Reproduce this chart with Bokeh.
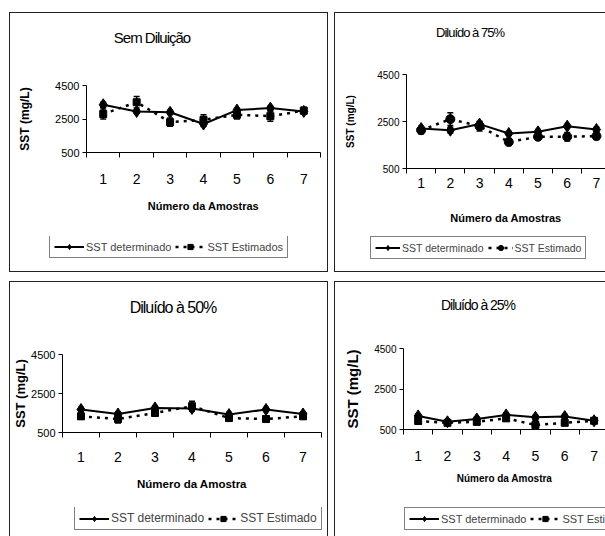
from bokeh.plotting import figure
from bokeh.models import (Range1d, FixedTicker, Legend, LegendItem, Div,
                          Whisker, ColumnDataSource, TeeHead, Spacer)
from bokeh.layouts import row, column
from bokeh.embed import file_html
from bokeh.resources import INLINE

# ---------------- data ----------------
amostras = [1, 2, 3, 4, 5, 6, 7]
y_ticks = [500, 2500, 4500]

det_sem = [3350, 2950, 2900, 2200, 3030, 3150, 2950]
est_sem = [2800, 3500, 2310, 2450, 2750, 2670, 3000]
err_det_sem = [150, 100, 120, 150, 100, 120, 100]
err_est_sem = [300, 350, 250, 300, 250, 300, 200]

det_75 = [2200, 2130, 2390, 1990, 2060, 2300, 2160]
est_75 = [2130, 2600, 2300, 1630, 1850, 1850, 1880]
err_det_75 = [100, 120, 100, 80, 100, 80, 100]
err_est_75 = [150, 270, 200, 150, 150, 180, 150]

det_50 = [1680, 1450, 1760, 1730, 1420, 1680, 1450]
est_50 = [1330, 1190, 1500, 1850, 1240, 1190, 1330]
err_det_50 = [100, 100, 100, 120, 100, 100, 100]
err_est_50 = [150, 200, 150, 250, 150, 150, 120]

det_25 = [1170, 880, 1020, 1220, 1100, 1140, 930]
est_25 = [920, 830, 880, 1050, 720, 830, 930]
err_det_25 = [100, 80, 100, 100, 100, 100, 80]
err_est_25 = [150, 120, 150, 120, 220, 120, 120]

titulos = ["Sem Diluição", "Diluído à 75%", "Diluído à 50%", "Diluído à 25%"]
eixo_x = ["Número da Amostras", "Número da Amostras", "Número da Amostra", "Número da Amostra"]
eixo_y = "SST (mg/L)"
leg_det = "SST determinado"
leg_est = ["SST Estimados", "SST Estimado", "SST Estimado", "SST Estimado"]

SANS = "Liberation Sans"


def painel(det, est, edet, eest, titulo, xtitle, lest, marker_est, lay):
    W = lay["w"]
    src = ColumnDataSource(dict(
        x=amostras, det=det, est=est,
        det_lo=[v - e for v, e in zip(det, edet)], det_hi=[v + e for v, e in zip(det, edet)],
        est_lo=[v - e for v, e in zip(est, eest)], est_hi=[v + e for v, e in zip(est, eest)],
    ))

    # ---- title (HTML text) ----
    html = ('<div style="display:block;width:%dpx;font-family:\'Liberation Sans\';'
            'font-size:%s;letter-spacing:%s;line-height:%dpx;margin:%dpx 0 0 0;'
            'text-align:center;white-space:nowrap;color:black">%s</div>'
            % (2 * lay["tcx"], lay["tfs"], lay["tls"], lay["tlh"], lay["tmt"], titulo))
    tdiv = Div(text=html, width=W, height=lay["th"], margin=0)

    # ---- main plot ----
    p = figure(width=W, height=lay["ph"], output_backend="svg",
               toolbar_location=None, title=None,
               x_range=Range1d(0.5, lay["xmax"]),
               y_range=Range1d(y_ticks[0], y_ticks[-1]),
               min_border_left=lay["ml"], min_border_right=lay["mr"],
               min_border_top=lay["mt"], min_border_bottom=lay["mb"])
    p.background_fill_color = "white"
    p.border_fill_color = "white"
    p.outline_line_color = None
    p.xgrid.visible = False
    p.ygrid.visible = False

    xa = p.xaxis[0]
    xa.ticker = FixedTicker(ticks=amostras,
                            minor_ticks=[a - 0.5 for a in amostras] + [amostras[-1] + 0.5])
    xa.major_tick_out = 0
    xa.major_tick_in = 0
    xa.minor_tick_out = 5
    xa.minor_tick_in = 0
    xa.minor_tick_line_color = "black"
    xa.axis_line_color = "black"
    xa.major_label_standoff = lay["xstand"]
    xa.major_label_text_font = SANS
    xa.major_label_text_font_size = "14px"
    xa.major_label_text_color = "black"
    xa.axis_label = xtitle
    xa.axis_label_standoff = lay["xlstand"]
    xa.axis_label_text_font = SANS
    xa.axis_label_text_font_style = "bold"
    xa.axis_label_text_font_size = lay["xlfs"]
    xa.axis_label_text_color = "black"

    ya = p.yaxis[0]
    ya.ticker = FixedTicker(ticks=y_ticks)
    ya.minor_tick_out = 0
    ya.minor_tick_in = 0
    ya.major_tick_out = 4
    ya.major_tick_in = 0
    ya.major_tick_line_color = "black"
    ya.axis_line_color = "black"
    ya.major_label_standoff = 3
    ya.major_label_text_font = SANS
    ya.major_label_text_font_size = lay["yfs"]
    ya.major_label_text_color = "black"
    ya.axis_label = eixo_y
    ya.axis_label_standoff = lay["ylstand"]
    ya.axis_label_text_font = SANS
    ya.axis_label_text_font_style = "bold"
    ya.axis_label_text_font_size = lay["ylfs"]
    ya.axis_label_text_color = "black"

    for lo, hi in (("det_lo", "det_hi"), ("est_lo", "est_hi")):
        w = Whisker(base="x", lower=lo, upper=hi, source=src,
                    line_color="black", line_width=1.5,
                    upper_head=TeeHead(size=6, line_color="black", line_width=1.5),
                    lower_head=TeeHead(size=6, line_color="black", line_width=1.5))
        p.add_layout(w)

    def series(fig):
        l2 = fig.line("x", "est", source=src, line_color="black", line_width=2.5, line_dash="3 5")
        s2 = fig.scatter("x", "est", source=src, marker=marker_est, size=lay["mest"],
                         fill_color="black", line_color="black")
        l1 = fig.line("x", "det", source=src, line_color="black", line_width=2)
        s1 = fig.scatter("x", "det", source=src, marker="diamond", size=12,
                         fill_color="black", line_color="black")
        return l1, s1, l2, s2

    series(p)

    # ---- legend strip (its own small figure; series drawn outside its view) ----
    lw = W - lay["lsp"]
    lf = figure(width=lw, height=lay["lh"], output_backend="svg", toolbar_location=None,
                title=None, x_axis_location=None, y_axis_location=None,
                x_range=Range1d(100, 101), y_range=Range1d(y_ticks[0], y_ticks[-1]),
                min_border_left=0, min_border_right=0, min_border_top=0, min_border_bottom=0)
    lf.outline_line_color = None
    lf.xgrid.visible = False
    lf.ygrid.visible = False
    lf.background_fill_color = "white"
    lf.border_fill_color = "white"
    l1, s1, l2, s2 = series(lf)
    leg = Legend(items=[LegendItem(label=leg_det, renderers=[l1, s1]),
                        LegendItem(label=lest, renderers=[l2, s2])],
                 location=(1, 1), orientation="horizontal",
                 border_line_color="black", border_line_width=1,
                 background_fill_color="white", background_fill_alpha=1,
                 padding=4, spacing=4, margin=0, glyph_width=lay["gw"], glyph_height=13,
                 label_standoff=2, label_height=13,
                 label_text_font=SANS, label_text_font_size=lay["lfs"])
    lf.add_layout(leg)

    kids = [tdiv, p, row(Spacer(width=lay["lsp"], height=lay["lh"]), lf)]
    if lay["sp"] > 0:
        kids.append(Spacer(width=W, height=lay["sp"]))
    sty = {"border": "1px solid #222"}
    sty.update(lay.get("sty", {}))
    return column(*kids, styles=sty)


lay1 = dict(w=317, tcx=142, th=40, tfs="15px", tls="-1px", tlh=18, tmt=16,
            ph=183, ml=76, mr=7, mt=32, mb=84, xmax=7.5,
            xstand=16, xlstand=13, xlfs="11px", yfs="11px", ylfs="12px", ylstand=20,
            mest=7, lh=23, lsp=38, gw=30, lfs="11px", sp=12)
lay2 = dict(w=270, tcx=135, th=40, tfs="13px", tls="-1px", tlh=16, tmt=12,
            ph=183, ml=71, mr=0, mt=21, mb=68, xmax=7.31,
            xstand=4, xlstand=21, xlfs="11px", yfs="10px", ylfs="10px", ylstand=18,
            mest=9, lh=24, lsp=34, gw=25, lfs="10.5px", sp=11,
            sty={"border-right": "none"})
lay3 = dict(w=317, tcx=163, th=42, tfs="16px", tls="-1px", tlh=19, tmt=16,
            ph=183, ml=51, mr=6, mt=30, mb=75, xmax=7.5,
            xstand=14, xlstand=13, xlfs="11.5px", yfs="11px", ylfs="13px", ylstand=0,
            mest=7, lh=24, lsp=63, gw=30, lfs="12px", sp=5,
            sty={"border-bottom": "none"})
lay4 = dict(w=270, tcx=143, th=42, tfs="14px", tls="-1px", tlh=17, tmt=15,
            ph=183, ml=68, mr=0, mt=24, mb=78, xmax=7.39,
            xstand=16, xlstand=9, xlfs="10px", yfs="10px", ylfs="15px", ylstand=10,
            mest=7, lh=24, lsp=68, gw=30, lfs="11px", sp=5,
            sty={"border-right": "none", "border-bottom": "none"})

c1 = painel(det_sem, est_sem, err_det_sem, err_est_sem, titulos[0], eixo_x[0], leg_est[0], "square", lay1)
c2 = painel(det_75, est_75, err_det_75, err_est_75, titulos[1], eixo_x[1], leg_est[1], "circle", lay2)
c3 = painel(det_50, est_50, err_det_50, err_est_50, titulos[2], eixo_x[2], leg_est[2], "square", lay3)
c4 = painel(det_25, est_25, err_det_25, err_est_25, titulos[3], eixo_x[3], leg_est[3], "square", lay4)

layout = column(Spacer(height=12),
                row(Spacer(width=9), c1, Spacer(width=6), c2),
                Spacer(height=9),
                row(Spacer(width=9), c3, Spacer(width=6), c4))

open("out.html", "w").write(file_html(layout, INLINE))
